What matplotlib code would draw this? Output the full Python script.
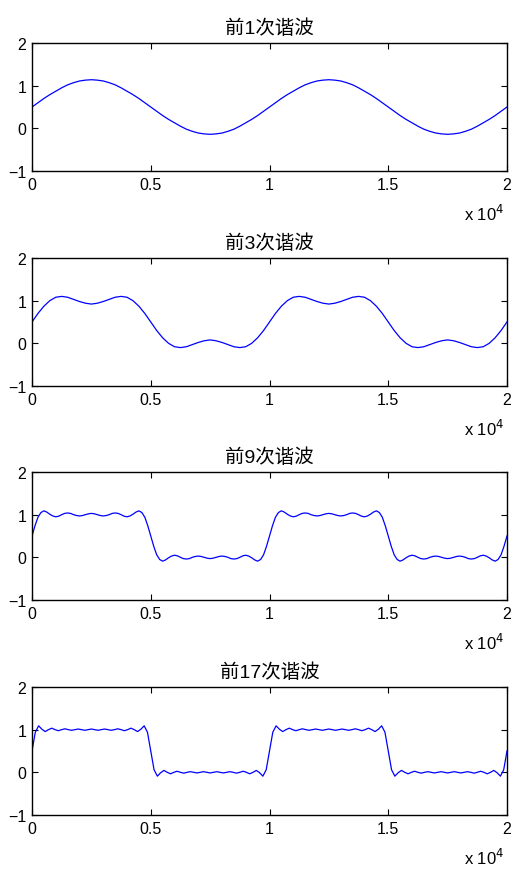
import matplotlib
matplotlib.use("Agg")
import matplotlib.pyplot as plt
import numpy as np

plt.rcParams['font.family'] = ['Liberation Sans', 'Noto Sans CJK SC', 'DejaVu Sans']

# panel titles
titles = ['前1次谐波', '前3次谐波', '前9次谐波', '前17次谐波']

# values read off one period of each panel (period = 10000 samples),
# the curve repeats twice over the 0..20000 range
period = 10000

# panel 1, step 250
p1_x = np.arange(0, 10000, 250)
p1_y = [0.50, 0.60, 0.70, 0.79, 0.87, 0.95, 1.02, 1.07, 1.11, 1.13,
        1.14, 1.13, 1.11, 1.07, 1.02, 0.95, 0.87, 0.79, 0.70, 0.60,
        0.50, 0.40, 0.30, 0.21, 0.13, 0.05, -0.02, -0.07, -0.11, -0.13,
        -0.14, -0.13, -0.11, -0.07, -0.02, 0.05, 0.13, 0.21, 0.30, 0.40]

# panel 2, step 250
p2_x = np.arange(0, 10000, 250)
p2_y = [0.50, 0.70, 0.87, 1.00, 1.08, 1.10, 1.08, 1.03, 0.98, 0.94,
        0.92, 0.94, 0.98, 1.03, 1.08, 1.10, 1.08, 1.00, 0.87, 0.70,
        0.50, 0.30, 0.13, 0.00, -0.08, -0.10, -0.08, -0.03, 0.02, 0.06,
        0.08, 0.06, 0.02, -0.03, -0.08, -0.10, -0.08, 0.00, 0.13, 0.30]

# panel 3, step 125
p3_x = np.arange(0, 10000, 125)
p3_y = [0.50, 0.74, 0.94, 1.05, 1.09, 1.06, 1.01, 0.97, 0.95, 0.965,
        1.00, 1.03, 1.04, 1.03, 1.00, 0.98, 0.97, 0.98, 1.00, 1.02,
        1.03, 1.02, 1.00, 0.98, 0.97, 0.98, 1.00, 1.03, 1.04, 1.03,
        1.00, 0.965, 0.95, 0.97, 1.01, 1.06, 1.09, 1.05, 0.94, 0.74,
        0.50, 0.26, 0.06, -0.05, -0.09, -0.06, -0.01, 0.03, 0.05, 0.035,
        0.00, -0.03, -0.04, -0.03, 0.00, 0.02, 0.03, 0.02, 0.00, -0.02,
        -0.03, -0.02, 0.00, 0.02, 0.03, 0.02, 0.00, -0.03, -0.04, -0.03,
        0.00, 0.035, 0.05, 0.03, -0.01, -0.06, -0.09, -0.05, 0.06, 0.26]

# panel 4, step 10000/72
p4_x = np.arange(72) * (period / 72)
p4_y = [0.50, 0.94, 1.09, 1.01, 0.955, 1.00, 1.035, 1.00, 0.975, 1.00,
        1.02, 1.00, 0.985, 1.00, 1.015, 1.00, 0.985, 1.00, 1.015, 1.00,
        0.985, 1.00, 1.015, 1.00, 0.985, 1.00, 1.02, 1.00, 0.975, 1.00,
        1.035, 1.00, 0.955, 1.01, 1.09, 0.94,
        0.50, 0.06, -0.09, -0.01, 0.045, 0.00, -0.035, 0.00, 0.025, 0.00,
        -0.02, 0.00, 0.015, 0.00, -0.015, 0.00, 0.015, 0.00, -0.015, 0.00,
        0.015, 0.00, -0.015, 0.00, 0.015, 0.00, -0.02, 0.00, 0.025, 0.00,
        -0.035, 0.00, 0.045, -0.01, -0.09, 0.06]

panels = [(p1_x, p1_y), (p2_x, p2_y), (p3_x, p3_y), (p4_x, p4_y)]

xticks = [0, 5000, 10000, 15000, 20000]
xticklabels = ['0', '0.5', '1', '1.5', '2']
yticks = [-1, 0, 1, 2]

bottoms = [0.8023, 0.5552, 0.3092, 0.0621]

fig = plt.figure(figsize=(5.13, 8.70), dpi=100)

for i in range(4):
    px, py = panels[i]
    xs = np.concatenate([px, px + period, [2 * period]])
    ys = np.concatenate([py, py, [py[0]]])
    ax = fig.add_axes([0.0624, bottoms[i], 0.9259, 0.1471])
    ax.plot(xs, ys, color='#0000ff', lw=0.9)
    ax.set_xlim(0, 20000)
    ax.set_ylim(-1, 2)
    ax.set_xticks(xticks)
    ax.set_xticklabels(xticklabels)
    ax.set_yticks(yticks)
    ax.tick_params(direction='in', length=4, width=0.8, top=True, right=True,
                   labelsize=11.5, pad=4)
    for s in ax.spines.values():
        s.set_linewidth(1.0)
    ax.set_title(titles[i], fontsize=14, pad=7)
    ax.text(0.995, -0.33, r'x 10$^{4}$', transform=ax.transAxes,
            ha='right', va='center', fontsize=12)

fig.savefig('out.png', dpi=100)
